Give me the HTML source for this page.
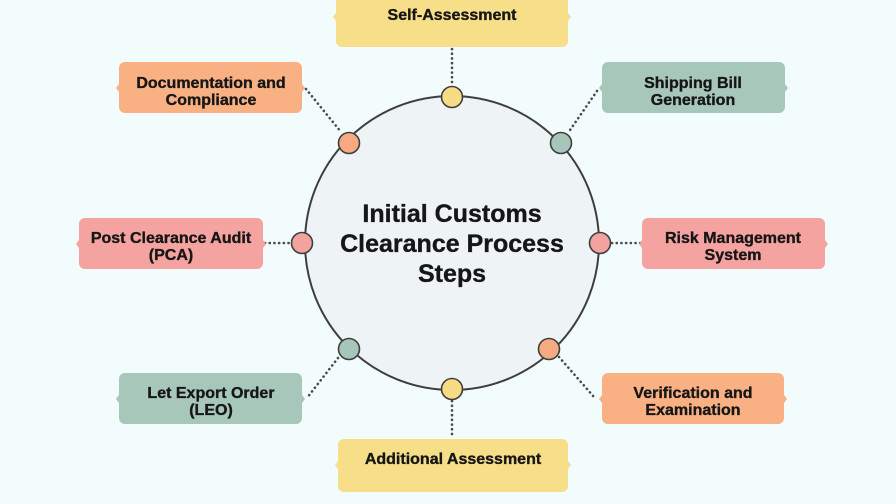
<!DOCTYPE html>
<html><head><meta charset="utf-8"><style>
html,body{margin:0;padding:0;background:#f2fcfc;}
svg{display:block;}
text{font-family:"Liberation Sans",Arial,sans-serif;font-weight:bold;fill:#161616;text-anchor:middle;stroke:#161616;stroke-width:0.35;}
</style></head><body>
<svg width="896" height="504" viewBox="0 0 896 504" xmlns="http://www.w3.org/2000/svg">
<rect width="896" height="504" fill="#f2fcfc"/>
<!-- connectors -->
<g stroke="#4a4a4a" stroke-width="2.6" stroke-dasharray="0.1 4.6" stroke-linecap="round" fill="none">
<line x1="452" y1="49" x2="452" y2="86"/>
<line x1="452" y1="401" x2="452" y2="438"/>
<line x1="265" y1="243" x2="291" y2="243"/>
<line x1="612" y1="243" x2="641" y2="243"/>
<line x1="306" y1="89" x2="341" y2="132"/>
<line x1="597" y1="91" x2="568" y2="133"/>
<line x1="338" y1="358" x2="307" y2="398"/>
<line x1="559" y1="357" x2="594" y2="397"/>
</g>
<!-- main circle -->
<circle cx="452" cy="243" r="147" fill="#eef4f6" stroke="#3e3e3e" stroke-width="2"/>
<text font-size="25" x="452" y="222" stroke-width="0.5">Initial Customs</text>
<text font-size="25" x="452" y="252" stroke-width="0.5">Clearance Process</text>
<text font-size="25" x="452" y="282" stroke-width="0.5">Steps</text>
<!-- boxes -->
<g>
<rect x="336" y="-14" width="232" height="61" rx="6" fill="#f7df8a"/>
<path d="M336 13 l-3 4 l3 4 Z M568 13 l3 4 l-3 4 Z" fill="#f7df8a"/>
<text font-size="16" x="452" y="20">Self-Assessment</text>

<rect x="119" y="62" width="183" height="51" rx="6" fill="#f9b184"/>
<path d="M119 84 l-3 4 l3 4 Z M302 84 l3 4 l-3 4 Z" fill="#f9b184"/>
<text font-size="16" x="211" y="88">Documentation and</text>
<text font-size="16" x="211" y="105">Compliance</text>

<rect x="602" y="62" width="183" height="51" rx="6" fill="#a8c7bb"/>
<path d="M602 84 l-3 4 l3 4 Z M785 84 l3 4 l-3 4 Z" fill="#a8c7bb"/>
<text font-size="16" x="693" y="88">Shipping Bill</text>
<text font-size="16" x="693" y="105">Generation</text>

<rect x="79" y="218" width="184" height="51" rx="6" fill="#f4a3a0"/>
<path d="M79 240 l-3 4 l3 4 Z M263 240 l3 4 l-3 4 Z" fill="#f4a3a0"/>
<text font-size="16" x="171" y="243">Post Clearance Audit</text>
<text font-size="16" x="171" y="260">(PCA)</text>

<rect x="642" y="218" width="183" height="51" rx="6" fill="#f4a3a0"/>
<path d="M642 240 l-3 4 l3 4 Z M825 240 l3 4 l-3 4 Z" fill="#f4a3a0"/>
<text font-size="16" x="733" y="243">Risk Management</text>
<text font-size="16" x="733" y="260">System</text>

<rect x="119" y="373" width="183" height="51" rx="6" fill="#a8c7bb"/>
<path d="M119 395 l-3 4 l3 4 Z M302 395 l3 4 l-3 4 Z" fill="#a8c7bb"/>
<text font-size="16" x="211" y="398">Let Export Order</text>
<text font-size="16" x="211" y="415">(LEO)</text>

<rect x="602" y="373" width="182" height="51" rx="6" fill="#f9b184"/>
<path d="M602 395 l-3 4 l3 4 Z M784 395 l3 4 l-3 4 Z" fill="#f9b184"/>
<text font-size="16" x="693" y="398">Verification and</text>
<text font-size="16" x="693" y="415">Examination</text>

<rect x="338" y="439" width="230" height="53" rx="6" fill="#f7df8a"/>
<path d="M338 461 l-3 4 l3 4 Z M568 461 l3 4 l-3 4 Z" fill="#f7df8a"/>
<text font-size="16" x="453" y="464">Additional Assessment</text>
</g>
<!-- dots -->
<g stroke="#3e3e3e" stroke-width="1.6">
<circle cx="452" cy="97" r="10.5" fill="#f7dc86"/>
<circle cx="452" cy="389" r="10.5" fill="#f7dc86"/>
<circle cx="349" cy="143" r="10.5" fill="#f6aa82"/>
<circle cx="561" cy="143" r="10.5" fill="#a6c6b9"/>
<circle cx="302" cy="243" r="10.5" fill="#f2a3a0"/>
<circle cx="600" cy="243" r="10.5" fill="#f2a3a0"/>
<circle cx="349" cy="349" r="10.5" fill="#a6c6b9"/>
<circle cx="549" cy="349" r="10.5" fill="#f6aa82"/>
</g>
</svg>
</body></html>
